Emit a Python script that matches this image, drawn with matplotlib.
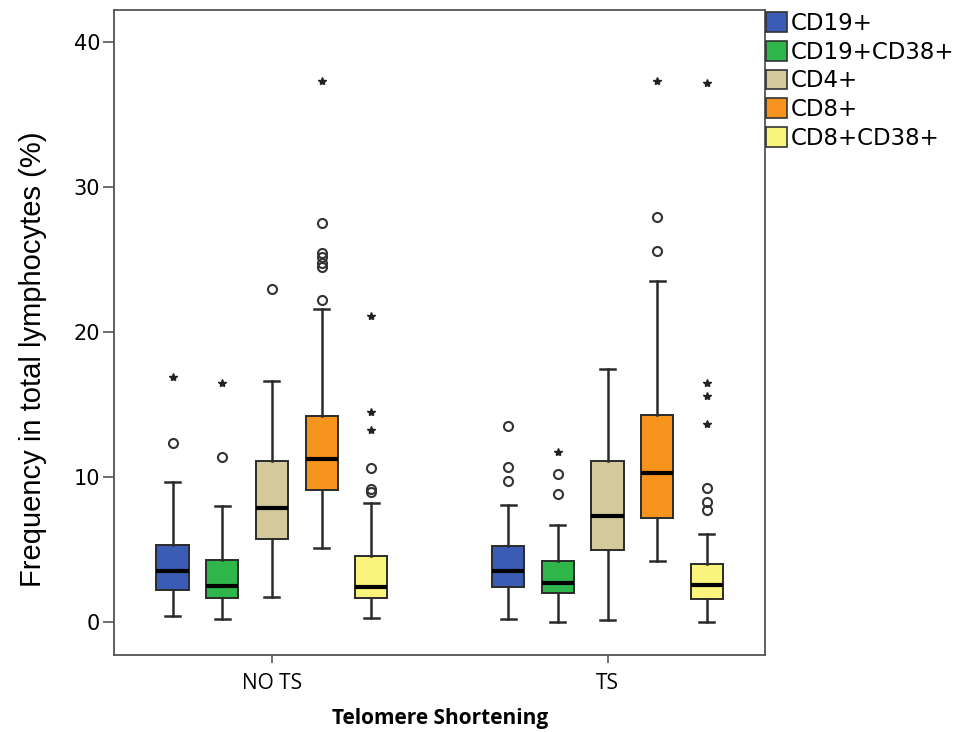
"""
Boxplots of lymphocyte subsets by telomere shortening group
"""

import matplotlib
matplotlib.use("Agg")
import matplotlib.pyplot as plt
from matplotlib.patches import Patch

groups = ["NO TS", "TS"]
series = ["CD19+", "CD19+CD38+", "CD4+", "CD8+", "CD8+CD38+"]
colors = ["#3a5cb4", "#2fb64b", "#d4c99b", "#f7941e", "#fbf47c"]

# box stats per group: [whislo, q1, med, q3, whishi] for each series
stats_nots = [
  [0.44, 2.21, 3.54, 5.33, 9.63],
  [0.23, 1.68, 2.48, 4.30, 8.02],
  [1.72, 5.75, 7.89, 11.13, 16.64],
  [5.13, 9.10, 11.22, 14.23, 21.59],
  [0.25, 1.68, 2.39, 4.53, 8.20],
]
stats_ts = [
  [0.18, 2.44, 3.52, 5.22, 8.07],
  [0.00, 1.98, 2.71, 4.23, 6.71],
  [0.11, 4.99, 7.33, 11.10, 17.45],
  [4.21, 7.15, 10.30, 14.30, 23.54],
  [0.00, 1.56, 2.53, 4.00, 6.05],
]
# outliers (circles) and extreme values (stars)
circles_nots = [[12.37], [11.38], [22.99], [22.2, 24.48, 24.8, 25.17, 25.45, 27.54], [9.0, 9.15, 10.6]]
stars_nots = [[16.9], [16.46], [], [37.3], [13.22, 14.46, 21.1]]
circles_ts = [[9.75, 10.69, 13.52], [8.80, 10.23], [], [25.6, 27.95], [7.7, 8.26, 9.26]]
stars_ts = [[], [11.70], [], [37.3], [13.68, 15.59, 16.46, 37.2]]

all_stats = [stats_nots, stats_ts]
all_circles = [circles_nots, circles_ts]
all_stars = [stars_nots, stars_ts]

fig = plt.figure(figsize=(9.59, 7.32), dpi=100)
ax = fig.add_axes([0.119, 0.105, 0.679, 0.881])

step = 0.148
edge = "#2b2b2b"
for g in range(len(groups)):
  for i in range(len(series)):
    lo, q1, med, q3, hi = all_stats[g][i]
    pos = g + (i - 2) * step
    st = dict(whislo=lo, q1=q1, med=med, q3=q3, whishi=hi, fliers=all_circles[g][i])
    ax.bxp([st], positions=[pos], widths=0.0955, capwidths=0.045, patch_artist=True,
           boxprops=dict(facecolor=colors[i], edgecolor=edge, linewidth=1.4),
           medianprops=dict(color="black", linewidth=3),
           whiskerprops=dict(color=edge, linewidth=1.8),
           capprops=dict(color=edge, linewidth=1.8),
           flierprops=dict(marker="o", markerfacecolor="none", markeredgecolor="#333333",
                           markersize=6.5, markeredgewidth=1.5),
           manage_ticks=False)
    if all_stars[g][i]:
      ax.plot([pos] * len(all_stars[g][i]), all_stars[g][i], linestyle="none",
              marker="*", color="#222222", markersize=6)

ax.set_xlim(-0.47, 1.47)
ax.set_ylim(-2.28, 42.2)
ax.set_xticks([0, 1])
ax.set_xticklabels(groups, fontsize=15, family="Open Sans")
ax.set_yticks([0, 10, 20, 30, 40])
ax.tick_params(axis="y", labelsize=15, length=8, width=1.2, color="#555555", pad=2)
ax.tick_params(axis="x", length=6, width=1.2, color="#555555", pad=7)
for sp in ax.spines.values():
  sp.set_color("#555555")
  sp.set_linewidth(1.3)

ax.set_ylabel("Frequency in total lymphocytes (%)", fontsize=21, family="Liberation Sans")
ax.yaxis.set_label_coords(-0.103, 0.459)
ax.set_xlabel("Telomere Shortening", fontsize=15, family="Open Sans", fontweight="bold", labelpad=10)

handles = [Patch(facecolor=c, edgecolor="#333333", linewidth=1.2) for c in colors]
fig.legend(handles, series, loc="upper left", bbox_to_anchor=(766 / 959, 1 - 12 / 732),
           frameon=False, fontsize=16.5, handlelength=0.92, handleheight=0.95,
           handletextpad=0.15, labelspacing=0.25, borderpad=0, borderaxespad=0)

fig.savefig("out.png", dpi=100)
plt.close()
